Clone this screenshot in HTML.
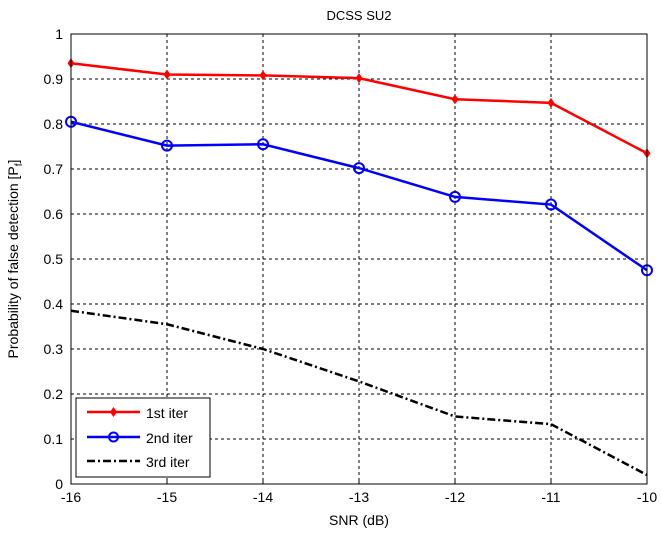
<!DOCTYPE html>
<html><head><meta charset="utf-8"><style>
body{margin:0;background:#fff}
svg{display:block;font-family:"Liberation Sans",sans-serif}
</style></head><body>
<svg id="chart" width="662" height="538">
<rect x="0" y="0" width="662" height="538" fill="#fff"/>
<text x="359" y="20" font-size="13" text-anchor="middle">DCSS SU2</text>
<text x="359" y="525" font-size="14" text-anchor="middle">SNR (dB)</text>
<text transform="translate(18,259) rotate(-90)" font-size="14" text-anchor="middle">Probability of false detection [P<tspan font-size="10" dy="4">f</tspan><tspan dy="-4">]</tspan></text>
<g id="grid"></g><g id="series"></g>
<rect x="71" y="34" width="576" height="450" fill="none" stroke="#000" stroke-width="1"/>
<g>
<rect x="76" y="398" width="134" height="79" fill="#fff" stroke="#000"/>
<line x1="87" y1="412" x2="140" y2="412" stroke="#f00" stroke-width="2.5"/>
<path d="M113.5 407 L117 412 L113.5 417 L110 412Z" fill="#f00"/>
<text x="146" y="418" font-size="14">1st iter</text>
<line x1="87" y1="437" x2="140" y2="437" stroke="#00f" stroke-width="2.5"/>
<circle cx="113.5" cy="437" r="4.5" fill="none" stroke="#00f" stroke-width="2"/>
<text x="146" y="443" font-size="14">2nd iter</text>
<line x1="87" y1="461" x2="140" y2="461" stroke="#000" stroke-width="2.5" stroke-dasharray="8,3,2,3"/>
<text x="146" y="467" font-size="14">3rd iter</text>
</g>
</svg>
<script>
const snr=[-16,-15,-14,-13,-12,-11,-10];
const iter1=[0.935,0.91,0.908,0.902,0.855,0.847,0.735];
const iter2=[0.805,0.752,0.755,0.702,0.638,0.621,0.475];
const iter3=[0.385,0.355,0.3,0.228,0.15,0.133,0.02];
const yTicks=[0,0.1,0.2,0.3,0.4,0.5,0.6,0.7,0.8,0.9,1];
const NS='http://www.w3.org/2000/svg';
const X=v=>71+(v+16)*96, Y=v=>484-v*450;
function mk(t,a,p){const e=document.createElementNS(NS,t);for(const k in a)e.setAttribute(k,a[k]);p.appendChild(e);return e;}
const g=document.getElementById('grid'), s=document.getElementById('series');
snr.forEach(v=>{
 if(v>-16&&v<-10){const l=mk('line',{x1:X(v),x2:X(v),y1:34,y2:484,stroke:'#000','stroke-dasharray':'3,3'},g);
 
 }
 mk('line',{x1:X(v),x2:X(v),y1:484,y2:478,stroke:'#000'},g);
 const t=mk('text',{x:X(v),y:502,'font-size':14,'text-anchor':'middle'},g);t.textContent=v;
 
 
});
yTicks.forEach(v=>{
 if(v>0&&v<1){const l=mk('line',{x1:71,x2:647,y1:Y(v),y2:Y(v),stroke:'#000','stroke-dasharray':'3,3'},g);
 
 }
 const t=mk('text',{x:63,y:Y(v)+5,'font-size':14,'text-anchor':'end'},g);t.textContent=v;
 
 
});
function line(d,c,dash,name){
 const p=mk('polyline',{points:d.map((v,i)=>X(snr[i])+','+Y(v)).join(' '),fill:'none',stroke:c,'stroke-width':2.5},s);
 if(dash)p.setAttribute('stroke-dasharray',dash);
 
 
}
line(iter1,'#f00',null,'series-1st-iter');
line(iter2,'#00f',null,'series-2nd-iter');
line(iter3,'#000','8,3,2,3','series-3rd-iter');
iter1.forEach((v,i)=>{const x=X(snr[i]),y=Y(v);
 const m=mk('path',{d:`M${x} ${y-5}L${x+3.5} ${y}L${x} ${y+5}L${x-3.5} ${y}Z`,fill:'#f00'},s);
 
 });
iter2.forEach((v,i)=>{
 const m=mk('circle',{cx:X(snr[i]),cy:Y(v),r:5,fill:'none',stroke:'#00f','stroke-width':2},s);
 
 });
</script>
</body></html>
